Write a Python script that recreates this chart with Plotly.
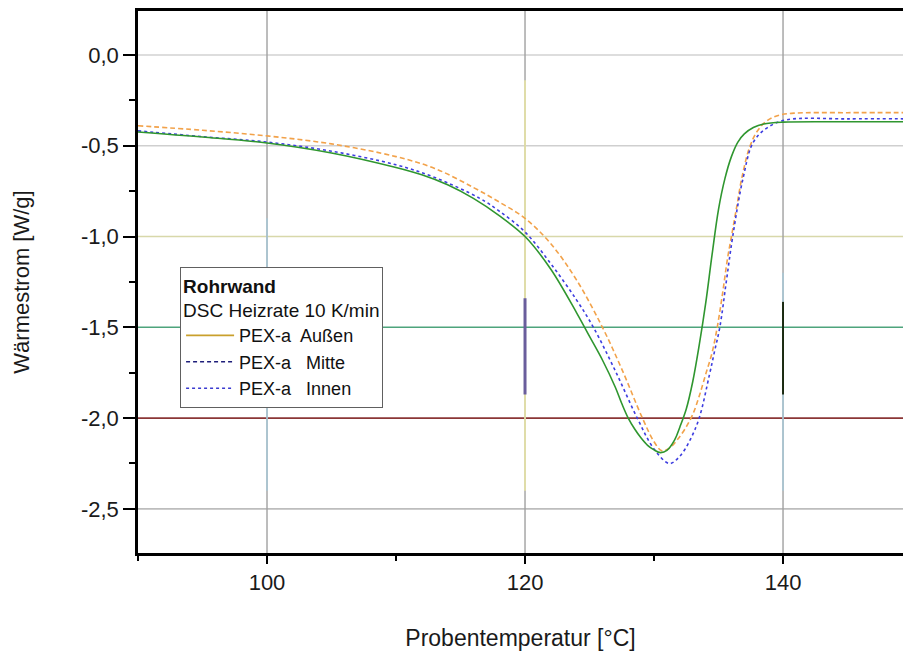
import plotly.graph_objects as go

# ---- data ----
t_aussen = [90, 95, 100, 105, 110, 112, 114, 116, 118, 120, 122, 124, 125, 126, 127, 127.5, 128,
            128.5, 129, 129.5, 130, 130.5, 131, 131.6, 132, 132.5, 133, 133.5, 134, 134.5, 135,
            135.5, 136, 136.5, 137, 137.7, 138.5, 140, 145, 150]
v_aussen = [-0.424, -0.452, -0.485, -0.54, -0.62, -0.66, -0.715, -0.79, -0.885, -1.0, -1.18, -1.42,
            -1.55, -1.68, -1.83, -1.92, -2.0, -2.06, -2.11, -2.15, -2.175, -2.19, -2.178, -2.12,
            -2.05, -1.95, -1.8, -1.6, -1.37, -1.1, -0.85, -0.68, -0.56, -0.48, -0.435, -0.40,
            -0.38, -0.37, -0.368, -0.368]

t_mitte = [90, 95, 100, 105, 110, 113, 116, 118, 120, 122, 124, 126, 127.5, 129.1, 130, 130.6,
           131.2, 131.8, 132.4, 133, 133.5, 134, 134.5, 134.9, 135.3, 135.7, 136, 136.4, 136.8,
           137.4, 138, 138.8, 139.8, 141, 145, 150]
v_mitte = [-0.39, -0.415, -0.446, -0.49, -0.56, -0.625, -0.73, -0.81, -0.9, -1.04, -1.24, -1.5,
           -1.73, -2.0, -2.13, -2.18, -2.165, -2.12, -2.06, -1.98, -1.88, -1.76, -1.64, -1.5, -1.32,
           -1.12, -1.0, -0.84, -0.68, -0.51, -0.42, -0.36, -0.33, -0.32, -0.318, -0.318]

t_innen = [90, 95, 100, 105, 110, 113, 116.5, 118, 120, 122, 124, 125.3, 127, 128.7, 130,
           131.2, 132, 132.8, 133.5, 134.3, 134.7, 135.1, 135.6, 136.1, 136.9, 137.7, 138.8, 140.3, 145, 150]
v_innen = [-0.418, -0.45, -0.48, -0.53, -0.605, -0.675, -0.79, -0.86, -0.975, -1.15, -1.35,
           -1.5, -1.74, -2.0, -2.17, -2.25, -2.21, -2.12, -2.0, -1.76, -1.63, -1.5, -1.25, -1.0,
           -0.68, -0.48, -0.40, -0.357, -0.352, -0.352]

x_ticks = [100, 120, 140]
x_ticklabels = ["100", "120", "140"]
y_ticks = [0.0, -0.5, -1.0, -1.5, -2.0, -2.5]
y_ticklabels = ["0,0", "-0,5", "-1,0", "-1,5", "-2,0", "-2,5"]

legend_names = ["PEX-a  Außen", "PEX-a   Mitte", "PEX-a   Innen"]

FONT = "Liberation Sans, Arial, sans-serif"

fig = go.Figure()

SM = 1.0
# plotted curves (colours as they appear in the plot area)
fig.add_trace(go.Scatter(x=t_mitte, y=v_mitte, mode="lines", showlegend=False,
                         line=dict(color="#f2a24a", width=1.6, dash="5px,3px", shape="spline", smoothing=SM)))
fig.add_trace(go.Scatter(x=t_innen, y=v_innen, mode="lines", showlegend=False,
                         line=dict(color="#3d3de0", width=1.6, dash="dot", shape="spline", smoothing=SM)))
fig.add_trace(go.Scatter(x=t_aussen, y=v_aussen, mode="lines", showlegend=False,
                         line=dict(color="#2f962f", width=1.6, shape="spline", smoothing=SM)))

# legend entries (colours as in the legend box)
fig.add_trace(go.Scatter(x=[None], y=[None], mode="lines", name=legend_names[0],
                         line=dict(color="#c9a02c", width=1.6)))
fig.add_trace(go.Scatter(x=[None], y=[None], mode="lines", name=legend_names[1],
                         line=dict(color="#1e1e7a", width=1.6, dash="4px,3px")))
fig.add_trace(go.Scatter(x=[None], y=[None], mode="lines", name=legend_names[2],
                         line=dict(color="#3a3ad0", width=1.4, dash="dot")))

# grid lines as shapes (colours vary in the reference)
hcolors = ["#d2d2d2", "#cfcfcf", "#d8d8aa", "#4ea47c", "#8b3636", "#bdbdbd"]
for yv, c in zip(y_ticks, hcolors):
    fig.add_shape(type="line", xref="paper", x0=0, x1=1, yref="y", y0=yv, y1=yv,
                  line=dict(color=c, width=1.6), layer="below")

for xv in x_ticks:
    fig.add_shape(type="line", xref="x", x0=xv, x1=xv, yref="paper", y0=0, y1=1,
                  line=dict(color="#a0a0a0", width=1.4), layer="below")
# coloured segments of vertical grid lines
seg = [(x_ticks[0], -0.9, -2.4, "#a6c8d8", 1.4),
       (x_ticks[1], -0.14, -2.4, "#e8e4a4", 1.6),
       (x_ticks[2], -1.2, -2.4, "#a6c8d8", 1.4),
       (x_ticks[1], -1.34, -1.87, "#6a5e9c", 3),
       (x_ticks[2], -1.36, -1.87, "#1a2a10", 2)]
for xv, ya, yb, c, w in seg:
    fig.add_shape(type="line", xref="x", x0=xv, x1=xv, yref="y", y0=ya, y1=yb,
                  line=dict(color=c, width=w), layer="below")

fig.update_layout(
    width=903, height=651,
    margin=dict(l=138, r=0, t=11, b=98),
    paper_bgcolor="white", plot_bgcolor="white",
    separators=", ",
    font=dict(family=FONT, color="#1a1a1a", size=22),
    legend=dict(
        x=0.055, y=0.528, xanchor="left", yanchor="top",
        bgcolor="white", bordercolor="#606060", borderwidth=1,
        font=dict(family=FONT, size=18, color="#111"),
        title=dict(text="<b>Rohrwand</b><br>DSC Heizrate 10 K/min",
                   font=dict(family=FONT, size=19, color="#111"), side="top"),
        itemwidth=48, tracegroupgap=0,
    ),
    xaxis=dict(
        range=[90, 149.3], tickmode="array", tickvals=x_ticks, ticktext=x_ticklabels,
        showgrid=False, zeroline=False, showline=True, linecolor="black", linewidth=2.5,
        mirror=True, ticks="outside", ticklen=8, tickwidth=1.5, tickcolor="black",
        minor=dict(dtick=10, tick0=90, ticks="outside", ticklen=5, tickwidth=1.5, tickcolor="black",
                   showgrid=False),
        tickfont=dict(size=22),
        title=dict(text="Probentemperatur [°C]", font=dict(size=23), standoff=40),
    ),
    yaxis=dict(
        range=[-2.743, 0.242], tickmode="array", tickvals=y_ticks, ticktext=y_ticklabels,
        showgrid=False, zeroline=False, showline=True, linecolor="black", linewidth=2.5,
        mirror=False, ticks="outside", ticklen=12, tickwidth=1.5, tickcolor="black",
        minor=dict(dtick=0.25, tick0=0, ticks="outside", ticklen=6, tickwidth=1.5, tickcolor="black",
                   showgrid=False),
        tickfont=dict(size=22),
        title=dict(text="Wärmestrom [W/g]", font=dict(size=22), standoff=46),
    ),
)

fig.write_html("out.html")
